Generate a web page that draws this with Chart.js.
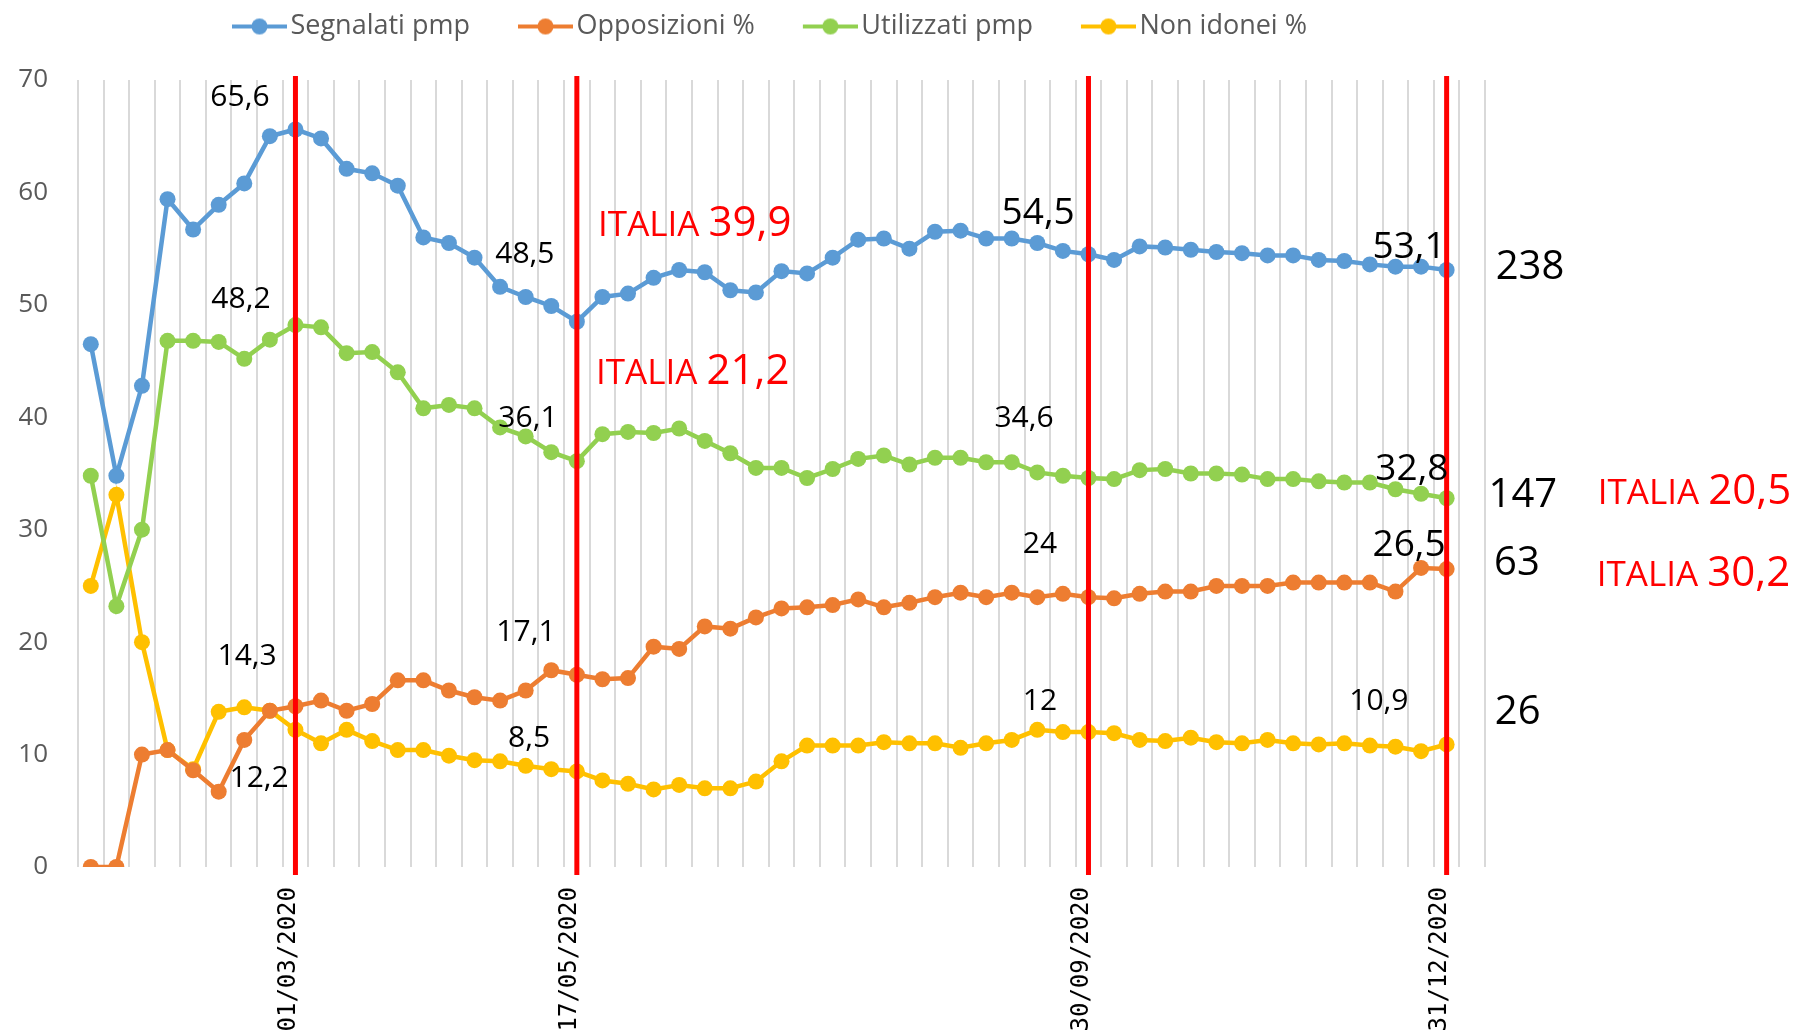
<!DOCTYPE html>
<html>
<head>
<meta charset="utf-8">
<script src="https://cdn.jsdelivr.net/npm/chart.js@4.4.0/dist/chart.umd.min.js"></script>
<style>
  html, body { margin: 0; padding: 0; background: #fff; }
  #wrap { width: 1803px; height: 1031px; }
</style>
</head>
<body>
<div id="wrap"><canvas id="chart" width="1803" height="1031"></canvas></div>
<script>
// tick labels shown on the x axis and where they sit
var tickDates = ['01/03/2020', '17/05/2020', '30/09/2020', '31/12/2020'];
var tickIndex = [8, 19, 39, 53];
var nCategories = 55;

var segnalati = [46.5, 34.8, 42.8, 59.4, 56.7, 58.9, 60.8, 65.0, 65.6, 64.8,
    62.1, 61.7, 60.6, 56.0, 55.5, 54.2, 51.6, 50.7, 49.9, 48.5,
    50.7, 51.0, 52.4, 53.1, 52.9, 51.3, 51.1, 53.0, 52.8, 54.2,
    55.8, 55.9, 55.0, 56.5, 56.6, 55.9, 55.9, 55.5, 54.8, 54.5,
    54.0, 55.2, 55.1, 54.9, 54.7, 54.6, 54.4, 54.4, 54.0, 53.9,
    53.6, 53.4, 53.4, 53.1];
var opposizioni = [0, 0, 10.0, 10.4, 8.6, 6.7, 11.3, 13.9, 14.3, 14.8,
    13.9, 14.5, 16.6, 16.6, 15.7, 15.1, 14.8, 15.7, 17.5, 17.1,
    16.7, 16.8, 19.6, 19.4, 21.4, 21.2, 22.2, 23.0, 23.1, 23.3,
    23.8, 23.1, 23.5, 24.0, 24.4, 24.0, 24.4, 24.0, 24.3, 24.0,
    23.9, 24.3, 24.5, 24.5, 25.0, 25.0, 25.0, 25.3, 25.3, 25.3,
    25.3, 24.5, 26.6, 26.5];
var utilizzati = [34.8, 23.2, 30.0, 46.8, 46.8, 46.7, 45.2, 46.9, 48.2, 48.0,
    45.7, 45.8, 44.0, 40.8, 41.1, 40.8, 39.1, 38.3, 36.9, 36.1,
    38.5, 38.7, 38.6, 39.0, 37.9, 36.8, 35.5, 35.5, 34.6, 35.4,
    36.3, 36.6, 35.8, 36.4, 36.4, 36.0, 36.0, 35.1, 34.8, 34.6,
    34.5, 35.3, 35.4, 35.0, 35.0, 34.9, 34.5, 34.5, 34.3, 34.2,
    34.2, 33.6, 33.2, 32.8];
var nonIdonei = [25.0, 33.1, 20.0, 10.4, 8.7, 13.8, 14.2, 13.9, 12.2, 11.0,
    12.2, 11.2, 10.4, 10.4, 9.9, 9.5, 9.4, 9.0, 8.7, 8.5,
    7.7, 7.4, 6.9, 7.3, 7.0, 7.0, 7.6, 9.4, 10.8, 10.8,
    10.8, 11.1, 11.0, 11.0, 10.6, 11.0, 11.3, 12.2, 12.0, 12.0,
    11.9, 11.3, 11.2, 11.5, 11.1, 11.0, 11.3, 11.0, 10.9, 11.0,
    10.8, 10.7, 10.3, 10.9];

var seriesNames = ['Segnalati pmp', 'Opposizioni %', 'Utilizzati pmp', 'Non idonei %'];
var seriesColors = ['#5B9BD5', '#ED7D31', '#92D050', '#FFC000'];

// value labels: text, x (category index), y (value at baseline), font size
var notes = [
    ['65,6', 5.83, 67.7, 30], ['48,2', 5.87, 49.7, 30], ['48,5', 16.97, 53.7, 30],
    ['36,1', 17.09, 39.1, 30], ['14,3', 6.11, 18.0, 30], ['12,2', 6.58, 7.1, 30],
    ['17,1', 17.01, 20.1, 30], ['8,5', 17.13, 10.7, 30], ['34,6', 36.48, 39.1, 30],
    ['24', 37.1, 27.9, 30], ['12', 37.1, 14.0, 30], ['10,9', 50.35, 14.0, 30],
    ['54,5', 37.03, 57.2, 37], ['53,1', 51.53, 54.2, 37], ['32,8', 51.64, 34.4, 37],
    ['26,5', 51.53, 27.7, 37],
    ['238', 56.26, 52.3, 40], ['147', 55.98, 32.0, 40], ['63', 55.75, 26.0, 40],
    ['26', 55.78, 12.7, 40]
];
// ITALIA reference values: number, left x (category index), baseline value
var italia = [['39,9', 19.83, 56.1], ['21,2', 19.75, 43.0], ['20,5', 58.91, 32.3], ['30,2', 58.87, 25.0]];

var categories = [];
for (var i = 0; i < nCategories; i++) {
    var k = tickIndex.indexOf(i);
    categories.push(k >= 0 ? tickDates[k] : '');
}

function legendIcon(color) {
    var c = document.createElement('canvas');
    c.width = 100; c.height = 20;
    var g = c.getContext('2d');
    g.strokeStyle = color; g.lineWidth = 4;
    g.beginPath(); g.moveTo(45, 10); g.lineTo(100, 10); g.stroke();
    g.fillStyle = color;
    g.beginPath(); g.arc(72.5, 10, 8, 0, Math.PI * 2); g.fill();
    return c;
}
var icons = seriesColors.map(legendIcon);

var allSeries = [segnalati, opposizioni, utilizzati, nonIdonei];
var datasets = allSeries.map(function (d, i) {
    return {
        label: seriesNames[i],
        data: d,
        borderColor: seriesColors[i],
        backgroundColor: seriesColors[i],
        borderWidth: 4.5,
        pointRadius: 8,
        pointBorderWidth: 0,
        pointBackgroundColor: seriesColors[i],
        tension: 0
    };
});

var overlay = {
    id: 'overlay',
    beforeInit: function (chart) {
        // extra room under the legend
        var fit = chart.legend.fit;
        chart.legend.fit = function () {
            fit.call(this);
            this.height += 30;
        };
    },
    afterDatasetsDraw: function (chart) {
        var ctx = chart.ctx, area = chart.chartArea;
        var x = chart.scales.x, y = chart.scales.y;
        ctx.save();
        // red vertical markers
        ctx.strokeStyle = '#FF0000';
        ctx.lineWidth = 5;
        tickIndex.forEach(function (idx) {
            var px = x.getPixelForValue(idx);
            ctx.beginPath();
            ctx.moveTo(px, area.top - 4);
            ctx.lineTo(px, area.bottom + 8);
            ctx.stroke();
        });
        ctx.textBaseline = 'alphabetic';
        ctx.fillStyle = '#000';
        ctx.textAlign = 'center';
        notes.forEach(function (n) {
            ctx.font = n[3] + 'px "Open Sans"';
            ctx.fillText(n[0], x.getPixelForValue(n[1]), y.getPixelForValue(n[2]));
        });
        ctx.fillStyle = '#FF0000';
        ctx.textAlign = 'left';
        italia.forEach(function (n) {
            var px = x.getPixelForValue(n[1]), py = y.getPixelForValue(n[2]);
            ctx.font = '35px "Open Sans"';
            ctx.fillText('ITALIA ', px, py);
            var w = ctx.measureText('ITALIA ').width;
            ctx.font = '42px "Open Sans"';
            ctx.fillText(n[0], px + w, py);
        });
        ctx.restore();
    }
};

new Chart(document.getElementById('chart').getContext('2d'), {
    type: 'line',
    data: { labels: categories, datasets: datasets },
    options: {
        responsive: false,
        animation: false,
        layout: { padding: { left: 19, right: 318, top: 0, bottom: 0 } },
        plugins: {
            tooltip: { enabled: false },
            legend: {
                position: 'top',
                labels: {
                    usePointStyle: true,
                    pointStyleWidth: 80,
                    padding: 13,
                    color: '#595959',
                    font: { family: 'Open Sans', size: 27 },
                    generateLabels: function (chart) {
                        var items = Chart.defaults.plugins.legend.labels.generateLabels(chart);
                        items.forEach(function (it, i) { it.pointStyle = icons[i]; });
                        return items;
                    }
                }
            }
        },
        scales: {
            x: {
                offset: true,
                grid: { offset: true, color: '#D9D9D9', lineWidth: 2, drawTicks: false },
                border: { display: false },
                afterFit: function (s) { s.height = 164; },
                ticks: {
                    autoSkip: false,
                    minRotation: 90,
                    maxRotation: 90,
                    padding: 20,
                    labelOffset: -7,
                    color: '#000',
                    font: { family: 'DejaVu Sans Mono', size: 24 }
                }
            },
            y: {
                min: 0,
                max: 70,
                grid: { display: false, drawTicks: false },
                border: { display: false },
                afterFit: function (s) { s.width = 59; },
                ticks: {
                    stepSize: 10,
                    padding: 30,
                    color: '#595959',
                    font: { family: 'Open Sans', size: 26 }
                }
            }
        }
    },
    plugins: [overlay]
});
</script>
</body>
</html>
